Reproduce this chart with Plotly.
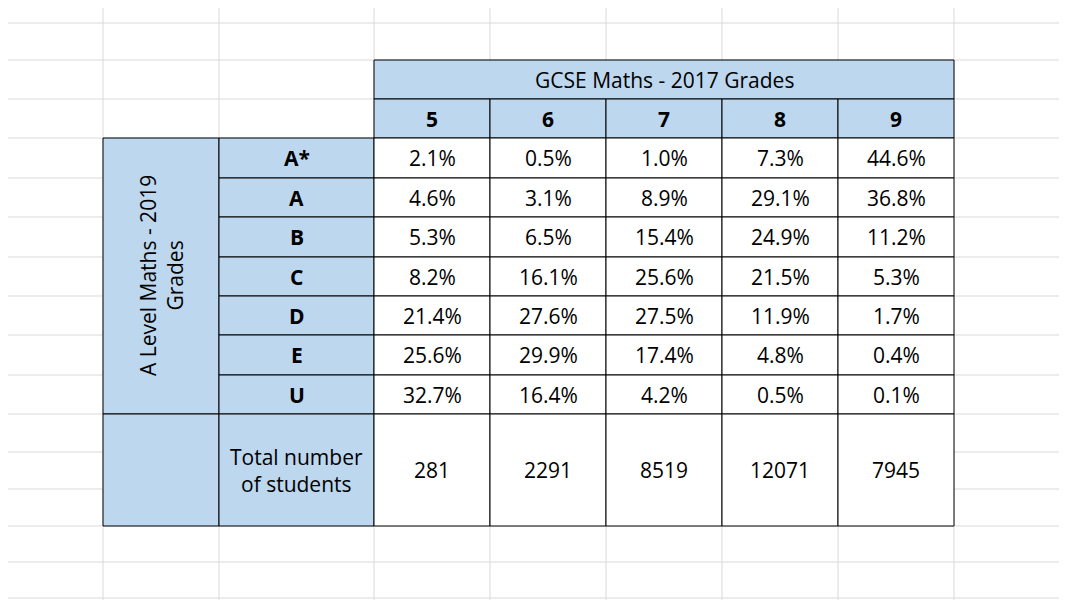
import plotly.graph_objects as go

gcse_grades = ["5", "6", "7", "8", "9"]
alevel_grades = ["A*", "A", "B", "C", "D", "E", "U"]
pct = [
    [2.1, 0.5, 1.0, 7.3, 44.6],
    [4.6, 3.1, 8.9, 29.1, 36.8],
    [5.3, 6.5, 15.4, 24.9, 11.2],
    [8.2, 16.1, 25.6, 21.5, 5.3],
    [21.4, 27.6, 27.5, 11.9, 1.7],
    [25.6, 29.9, 17.4, 4.8, 0.4],
    [32.7, 16.4, 4.2, 0.5, 0.1],
]
totals = [281, 2291, 8519, 12071, 7945]
title_top = "GCSE Maths - 2017 Grades"
title_left = "A Level Maths - 2019<br>Grades"
total_label = "Total number<br>of students"

# sheet geometry (pixels)
col_x = [103, 219, 374, 490, 606, 722, 838, 954]
row_y = [60, 99, 138, 178, 217, 257, 296, 335, 375, 414, 526]
grid_x = [103, 219, 374, 490, 606, 722, 838, 954]
grid_y = [-13, 23, 60, 99, 138, 178, 217, 257, 296, 335, 375, 414, 452, 489, 526, 562, 598]
BLUE = "#bdd7ee"
GRID = "#d9d9d9"
FONT = "Open Sans"
FS = 21

shapes, ann = [], []
def rect(x0, y0, x1, y1, fill=None, line="black", w=1):
    shapes.append(dict(type="rect", xref="x", yref="y", x0=x0, y0=y0, x1=x1, y1=y1,
                       fillcolor=fill or "rgba(0,0,0,0)", line=dict(color=line, width=w), layer="above"))
def text(x, y, t, bold=False, angle=0, size=FS):
    ann.append(dict(x=x, y=y, xref="x", yref="y", text=f"<b>{t}</b>" if bold else t, showarrow=False,
                    textangle=angle, font=dict(family=FONT, size=size, color="black")))

for gx in grid_x:
    shapes.append(dict(type="line", x0=gx, x1=gx, y0=-20, y1=620, line=dict(color=GRID, width=1), layer="below"))
for gy in grid_y:
    shapes.append(dict(type="line", x0=-20, x1=1100, y0=gy, y1=gy, line=dict(color=GRID, width=1), layer="below"))

rect(col_x[2], row_y[0], col_x[-1], row_y[1], BLUE)
text((col_x[2] + col_x[-1]) / 2, (row_y[0] + row_y[1]) / 2, title_top)
for j, g in enumerate(gcse_grades):
    rect(col_x[2 + j], row_y[1], col_x[3 + j], row_y[2], BLUE)
    text((col_x[2 + j] + col_x[3 + j]) / 2, (row_y[1] + row_y[2]) / 2, g, bold=True)
rect(col_x[0], row_y[2], col_x[1], row_y[9], BLUE)
text((col_x[0] + col_x[1]) / 2, (row_y[2] + row_y[9]) / 2, title_left, angle=-90)
rect(col_x[0], row_y[9], col_x[1], row_y[10], BLUE)
for i, g in enumerate(alevel_grades):
    y0, y1 = row_y[2 + i], row_y[3 + i]
    rect(col_x[1], y0, col_x[2], y1, BLUE)
    text((col_x[1] + col_x[2]) / 2, (y0 + y1) / 2, g, bold=True)
    for j in range(len(gcse_grades)):
        rect(col_x[2 + j], y0, col_x[3 + j], y1, "white")
        text((col_x[2 + j] + col_x[3 + j]) / 2, (y0 + y1) / 2, f"{pct[i][j]:.1f}%")
y0, y1 = row_y[9], row_y[10]
rect(col_x[1], y0, col_x[2], y1, BLUE)
ann.append(dict(x=(col_x[1] + col_x[2]) / 2, y=(y0 + y1) / 2, xref="x", yref="y", text=total_label,
                showarrow=False, align="center", font=dict(family=FONT, size=FS, color="black")))
for j, t in enumerate(totals):
    rect(col_x[2 + j], y0, col_x[3 + j], y1, "white")
    text((col_x[2 + j] + col_x[3 + j]) / 2, (y0 + y1) / 2, str(t))

fig = go.Figure()
fig.update_layout(width=1067, height=600, margin=dict(l=0, r=0, t=0, b=0),
                  plot_bgcolor="white", paper_bgcolor="white", shapes=shapes, annotations=ann,
                  xaxis=dict(range=[8, 1075], visible=False, fixedrange=True),
                  yaxis=dict(range=[608, 8], visible=False, fixedrange=True), showlegend=False)
fig.write_html("out.html")
